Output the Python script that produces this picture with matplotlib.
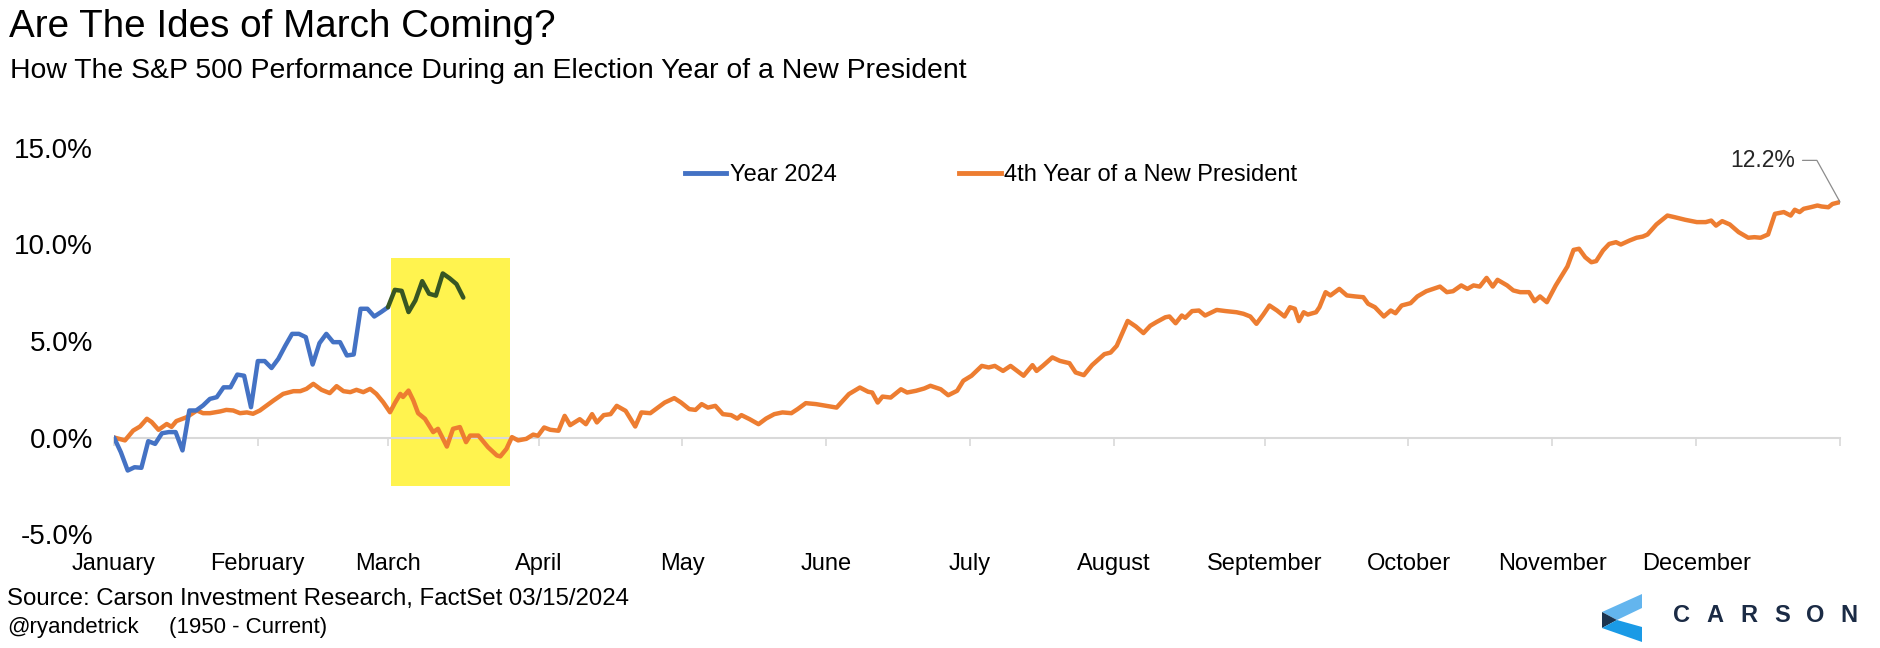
import matplotlib.pyplot as plt
from matplotlib.patches import Rectangle, Polygon
from matplotlib.lines import Line2D

plt.rcParams['font.family'] = ['Liberation Sans', 'DejaVu Sans']

W, H = 1881, 648

months = ["January", "February", "March", "April", "May", "June", "July",
          "August", "September", "October", "November", "December"]
# trading-day index where each month starts (last entry = year end)
month_starts = [0, 21, 40, 62, 83, 104, 125, 146, 168, 189, 210, 231, 252]

# S&P 500 YTD % in 2024, by trading day (day 0 = prior close)
ytd_2024 = [0.0, -0.76, -1.71, -1.54, -1.57, -0.19, -0.33, 0.22, 0.28, 0.28,
            -0.67, 1.4, 1.4, 1.66, 2.0, 2.09, 2.6, 2.6, 3.26, 3.2,
            1.57, 3.96, 3.96, 3.6, 4.08, 4.75, 5.37, 5.37, 5.2, 3.78,
            4.89, 5.37, 4.94, 4.94, 4.25, 4.3, 6.67, 6.67, 6.27, 6.5,
            6.75]
# March 2024 part (starts on the last day of ytd_2024)
ytd_2024_march = [6.75, 7.65, 7.6, 6.5, 7.1, 8.1, 7.45, 7.35, 8.5, 8.25, 7.95, 7.25]

# average path, 4th year of a new president (1950 - current)
new_pres_day = [
    0.0, 1.6, 2.8, 3.8, 4.8, 5.5, 6.5, 7.7, 8.4, 9.1, 10.6, 12.1, 13.0, 14.0,
    15.5, 16.4, 17.4, 18.4, 19.4, 20.3, 21.3, 22.3, 23.3, 24.7, 26.2, 27.2,
    28.1, 29.1, 30.3, 31.5, 32.5, 33.5, 34.5, 35.4, 36.4, 37.4, 38.3, 39.3,
    40.3, 41.0, 41.8, 42.2, 43.0, 43.7, 44.4, 45.4, 46.6, 47.3, 48.6, 49.5,
    50.5, 51.4, 52.0, 53.2, 54.6, 55.9, 56.4, 57.3, 58.1, 59.0, 60.2, 61.2,
    61.9, 62.8, 63.7, 64.9, 65.8, 66.6, 68.0, 68.9, 69.8, 70.5, 71.5, 72.5,
    73.4, 74.7, 76.1, 77.0, 78.3, 80.4, 81.8, 82.8, 84.0, 84.9, 85.8, 86.7,
    87.8, 88.9, 90.1, 91.0, 91.6, 92.8, 94.1, 95.2, 96.4, 97.6, 98.9, 99.8,
    101.0, 102.5, 104.0, 105.5, 107.3, 108.9, 110.1, 110.7, 111.5, 112.2,
    113.4, 114.9, 115.8, 117.1, 118.3, 119.2, 120.7, 121.8, 123.1, 124.0,
    125.2, 126.7, 127.7, 128.6, 129.8, 130.9, 132.8, 134.1, 134.7, 135.6,
    137.0, 138.1, 139.5, 140.4, 141.6, 142.8, 144.6, 145.5, 146.4, 148.0,
    149.2, 150.3, 151.3, 152.2, 153.5, 154.1, 155.0, 155.9, 156.4, 157.4,
    158.4, 159.3, 161.0, 162.3, 163.9, 164.9, 165.9, 166.8, 167.8, 168.7,
    169.8, 170.9, 171.7, 172.4, 173.0, 173.7, 174.3, 175.5, 176.0, 176.9,
    177.6, 178.9, 180.0, 181.2, 182.4, 183.1, 184.1, 185.4, 186.4, 187.1,
    188.0, 189.3, 190.3, 191.6, 192.6, 193.6, 194.6, 195.5, 196.7, 197.6,
    198.5, 199.4, 200.4, 201.3, 202.0, 203.4, 204.3, 205.3, 206.6, 207.4,
    208.2, 209.2, 210.5, 212.2, 213.1, 213.9, 214.8, 215.7, 216.4, 217.4,
    218.3, 219.3, 220.0, 221.3, 222.3, 223.2, 223.9, 225.2, 226.8, 227.8,
    229.4, 231.1, 232.4, 233.2, 233.9, 234.8, 235.9, 237.2, 238.6, 239.5,
    240.4, 241.5, 242.5, 243.8, 244.8, 245.4, 246.1, 246.7, 247.7, 248.7,
    249.3, 250.3, 250.9, 252.0]
new_pres_pct = [
    0.0, -0.15, 0.36, 0.57, 0.97, 0.8, 0.4, 0.7, 0.55, 0.85, 1.05, 1.4, 1.26, 1.26,
    1.35, 1.43, 1.4, 1.26, 1.3, 1.23, 1.4, 1.66, 1.92, 2.26, 2.4, 2.4,
    2.52, 2.78, 2.47, 2.3, 2.66, 2.4, 2.35, 2.47, 2.35, 2.52, 2.26, 1.83,
    1.31, 1.78, 2.26, 2.1, 2.43, 1.92, 1.26, 0.97, 0.28, 0.45, -0.47, 0.45,
    0.54, -0.24, 0.1, 0.1, -0.5, -0.93, -0.98, -0.59, 0.02, -0.15, -0.07, 0.15,
    0.09, 0.52, 0.4, 0.35, 1.12, 0.64, 0.95, 0.69, 1.21, 0.78, 1.16, 1.21,
    1.64, 1.38, 0.57, 1.3, 1.26, 1.81, 2.04, 1.81, 1.47, 1.43, 1.73, 1.55,
    1.64, 1.21, 1.16, 0.98, 1.16, 0.95, 0.69, 0.98, 1.21, 1.3, 1.26, 1.47,
    1.78, 1.73, 1.64, 1.55, 2.25, 2.59, 2.37, 2.33, 1.81, 2.12,
    2.07, 2.5, 2.33, 2.42, 2.54, 2.68, 2.5, 2.19, 2.42, 2.94,
    3.2, 3.71, 3.63, 3.71, 3.45, 3.71, 3.2, 3.75, 3.45, 3.71,
    4.15, 3.97, 3.85, 3.37, 3.23, 3.75, 4.32, 4.4, 4.75, 6.04,
    5.75, 5.41, 5.79, 5.98, 6.23, 6.27, 5.92, 6.32, 6.2, 6.55,
    6.58, 6.32, 6.61, 6.55, 6.49, 6.41, 6.27, 5.89, 6.37, 6.84,
    6.58, 6.27, 6.75, 6.67, 6.03, 6.49, 6.37, 6.49, 6.75, 7.53,
    7.36, 7.7, 7.36, 7.31, 7.27, 6.93, 6.75, 6.27, 6.58, 6.44,
    6.84, 6.96, 7.31, 7.58, 7.7, 7.82, 7.53, 7.58, 7.88, 7.7,
    7.88, 7.82, 8.27, 7.82, 8.17, 7.88, 7.62, 7.53, 7.53, 7.06,
    7.31, 7.01, 7.88, 8.86, 9.72, 9.78, 9.34, 9.08, 9.14, 9.69,
    10.03, 10.12, 10.0, 10.21, 10.35, 10.41, 10.52, 11.04, 11.5, 11.42,
    11.28, 11.16, 11.16, 11.24, 10.98, 11.21, 11.04, 10.64, 10.35, 10.38,
    10.35, 10.52, 11.59, 11.68, 11.5, 11.8, 11.68, 11.85, 11.93, 12.02,
    11.97, 11.93, 12.1, 12.2]

# highlighted "ides of March" window (trading days, % range)
ides_days = (40.4, 57.8)
ides_pct = (-2.5, 9.3)

yticks = [-5, 0, 5, 10, 15]


def fx(px):
    return px / W


def fy(px):
    return 1 - px / H


def main():
    fig = plt.figure(figsize=(W / 100, H / 100), dpi=100)
    ax = fig.add_axes([fx(114), fy(534), fx(1840) - fx(114), fy(148) - fy(534)])
    ax.set_xlim(month_starts[0], month_starts[-1])
    ax.set_ylim(yticks[0], yticks[-1])

    ax.add_patch(Rectangle((ides_days[0], ides_pct[0]), ides_days[1] - ides_days[0],
                           ides_pct[1] - ides_pct[0], facecolor='#FFF34F',
                           edgecolor='none', zorder=1))

    style = dict(lw=3.2, solid_joinstyle='round', solid_capstyle='round')
    ax.plot(new_pres_day, new_pres_pct, color='#ED7D31', zorder=3, **style)
    ax.plot(range(len(ytd_2024)), ytd_2024, color='#4472C4', zorder=4, **style)
    start = len(ytd_2024) - 1
    ax.plot(range(start, start + len(ytd_2024_march)), ytd_2024_march,
            color='#375623', zorder=4, **style)

    # axes styling: only a light zero line with month ticks
    for side in ['left', 'top', 'right']:
        ax.spines[side].set_visible(False)
    ax.spines['bottom'].set_position(('data', 0))
    ax.spines['bottom'].set_color('#D9D9D9')
    ax.spines['bottom'].set_linewidth(1.5)
    ax.spines['bottom'].set_zorder(2)

    # month names are centred on the tick where each month begins
    ax.set_xticks(month_starts)
    ax.set_xticklabels(months + [""], fontsize=17)
    ax.tick_params(axis='x', length=6, width=1.2, color='#D9D9D9', pad=77)

    ax.set_yticks(yticks)
    ax.set_yticklabels([f"{v:.1f}%" for v in yticks], fontsize=20)
    ax.tick_params(axis='y', length=0, pad=15)

    ax.annotate(f"{new_pres_pct[-1]:.1f}%", xy=(new_pres_day[-1], new_pres_pct[-1]),
                xytext=(-32, 30), textcoords='offset points', ha='right', va='center',
                fontsize=16.5, color='#262626',
                arrowprops=dict(arrowstyle='-', color='#8C8C8C', lw=0.9,
                                connectionstyle='angle,angleA=0,angleB=-61',
                                shrinkA=3, shrinkB=0))

    handles = [Line2D([], [], color='#4472C4', lw=3.5),
               Line2D([], [], color='#ED7D31', lw=3.5)]
    fig.legend(handles, ["Year 2024", "4th Year of a New President"],
               loc='center', bbox_to_anchor=(fx(991), fy(175)), ncol=2,
               frameon=False, fontsize=17, handlelength=1.75, handletextpad=0.15,
               columnspacing=5.2, borderpad=0)

    fig.text(fx(9), fy(27), "Are The Ides of March Coming?", fontsize=27.8, va='center')
    fig.text(fx(10), fy(71), "How The S&P 500 Performance During an Election Year of a New President",
             fontsize=20.4, va='center')
    fig.text(fx(7), fy(599), "Source: Carson Investment Research, FactSet 03/15/2024",
             fontsize=17.3, va='center')
    fig.text(fx(7), fy(628), "@ryandetrick", fontsize=16, va='center')
    fig.text(fx(169), fy(628), "(1950 - Current)", fontsize=16, va='center')

    # Carson logo
    logo = [([(1642, 594), (1602, 612), (1617, 620), (1642, 608)], '#63B5EE'),
            ([(1602, 612), (1617, 620), (1602, 628)], '#1C3450'),
            ([(1602, 628), (1617, 620), (1642, 627), (1642, 642)], '#1A9AE6')]
    for pts, col in logo:
        fig.patches.append(Polygon([(fx(x), fy(y)) for x, y in pts], closed=True,
                                   facecolor=col, edgecolor='none',
                                   transform=fig.transFigure, figure=fig))
    for i, ch in enumerate("CARSON"):
        fig.text(fx(1682 + 33.4 * i), fy(615), ch, fontsize=17, fontweight='bold',
                 color='#1B2B45', ha='center', va='center')

    fig.savefig("out.png", dpi=100)


if __name__ == "__main__":
    main()
